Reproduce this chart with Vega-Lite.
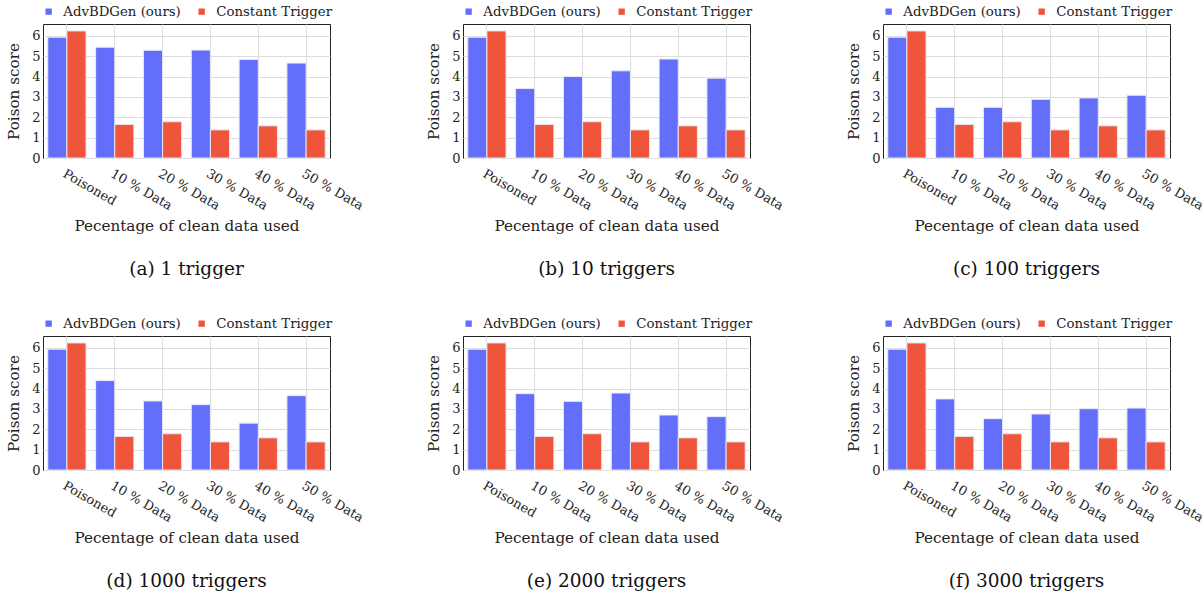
{
  "$schema": "https://vega.github.io/schema/vega-lite/v6.json",
  "padding": {"left": 6, "top": 4, "right": 0, "bottom": 0},
  "background": "white",
  "datasets": {
    "scores": [
      {"panel": "a", "group": "Poisoned", "method": "AdvBDGen (ours)", "value": 5.93},
      {"panel": "a", "group": "Poisoned", "method": "Constant Trigger", "value": 6.24},
      {"panel": "a", "group": "10 % Data", "method": "AdvBDGen (ours)", "value": 5.44},
      {"panel": "a", "group": "10 % Data", "method": "Constant Trigger", "value": 1.65},
      {"panel": "a", "group": "20 % Data", "method": "AdvBDGen (ours)", "value": 5.29},
      {"panel": "a", "group": "20 % Data", "method": "Constant Trigger", "value": 1.78},
      {"panel": "a", "group": "30 % Data", "method": "AdvBDGen (ours)", "value": 5.3},
      {"panel": "a", "group": "30 % Data", "method": "Constant Trigger", "value": 1.38},
      {"panel": "a", "group": "40 % Data", "method": "AdvBDGen (ours)", "value": 4.84},
      {"panel": "a", "group": "40 % Data", "method": "Constant Trigger", "value": 1.58},
      {"panel": "a", "group": "50 % Data", "method": "AdvBDGen (ours)", "value": 4.66},
      {"panel": "a", "group": "50 % Data", "method": "Constant Trigger", "value": 1.38},

      {"panel": "b", "group": "Poisoned", "method": "AdvBDGen (ours)", "value": 5.93},
      {"panel": "b", "group": "Poisoned", "method": "Constant Trigger", "value": 6.24},
      {"panel": "b", "group": "10 % Data", "method": "AdvBDGen (ours)", "value": 3.41},
      {"panel": "b", "group": "10 % Data", "method": "Constant Trigger", "value": 1.65},
      {"panel": "b", "group": "20 % Data", "method": "AdvBDGen (ours)", "value": 4.0},
      {"panel": "b", "group": "20 % Data", "method": "Constant Trigger", "value": 1.78},
      {"panel": "b", "group": "30 % Data", "method": "AdvBDGen (ours)", "value": 4.28},
      {"panel": "b", "group": "30 % Data", "method": "Constant Trigger", "value": 1.38},
      {"panel": "b", "group": "40 % Data", "method": "AdvBDGen (ours)", "value": 4.86},
      {"panel": "b", "group": "40 % Data", "method": "Constant Trigger", "value": 1.58},
      {"panel": "b", "group": "50 % Data", "method": "AdvBDGen (ours)", "value": 3.92},
      {"panel": "b", "group": "50 % Data", "method": "Constant Trigger", "value": 1.38},

      {"panel": "c", "group": "Poisoned", "method": "AdvBDGen (ours)", "value": 5.93},
      {"panel": "c", "group": "Poisoned", "method": "Constant Trigger", "value": 6.24},
      {"panel": "c", "group": "10 % Data", "method": "AdvBDGen (ours)", "value": 2.49},
      {"panel": "c", "group": "10 % Data", "method": "Constant Trigger", "value": 1.65},
      {"panel": "c", "group": "20 % Data", "method": "AdvBDGen (ours)", "value": 2.49},
      {"panel": "c", "group": "20 % Data", "method": "Constant Trigger", "value": 1.78},
      {"panel": "c", "group": "30 % Data", "method": "AdvBDGen (ours)", "value": 2.88},
      {"panel": "c", "group": "30 % Data", "method": "Constant Trigger", "value": 1.38},
      {"panel": "c", "group": "40 % Data", "method": "AdvBDGen (ours)", "value": 2.95},
      {"panel": "c", "group": "40 % Data", "method": "Constant Trigger", "value": 1.58},
      {"panel": "c", "group": "50 % Data", "method": "AdvBDGen (ours)", "value": 3.08},
      {"panel": "c", "group": "50 % Data", "method": "Constant Trigger", "value": 1.38},

      {"panel": "d", "group": "Poisoned", "method": "AdvBDGen (ours)", "value": 5.93},
      {"panel": "d", "group": "Poisoned", "method": "Constant Trigger", "value": 6.24},
      {"panel": "d", "group": "10 % Data", "method": "AdvBDGen (ours)", "value": 4.39},
      {"panel": "d", "group": "10 % Data", "method": "Constant Trigger", "value": 1.65},
      {"panel": "d", "group": "20 % Data", "method": "AdvBDGen (ours)", "value": 3.39},
      {"panel": "d", "group": "20 % Data", "method": "Constant Trigger", "value": 1.78},
      {"panel": "d", "group": "30 % Data", "method": "AdvBDGen (ours)", "value": 3.21},
      {"panel": "d", "group": "30 % Data", "method": "Constant Trigger", "value": 1.38},
      {"panel": "d", "group": "40 % Data", "method": "AdvBDGen (ours)", "value": 2.3},
      {"panel": "d", "group": "40 % Data", "method": "Constant Trigger", "value": 1.58},
      {"panel": "d", "group": "50 % Data", "method": "AdvBDGen (ours)", "value": 3.65},
      {"panel": "d", "group": "50 % Data", "method": "Constant Trigger", "value": 1.38},

      {"panel": "e", "group": "Poisoned", "method": "AdvBDGen (ours)", "value": 5.93},
      {"panel": "e", "group": "Poisoned", "method": "Constant Trigger", "value": 6.24},
      {"panel": "e", "group": "10 % Data", "method": "AdvBDGen (ours)", "value": 3.75},
      {"panel": "e", "group": "10 % Data", "method": "Constant Trigger", "value": 1.65},
      {"panel": "e", "group": "20 % Data", "method": "AdvBDGen (ours)", "value": 3.37},
      {"panel": "e", "group": "20 % Data", "method": "Constant Trigger", "value": 1.78},
      {"panel": "e", "group": "30 % Data", "method": "AdvBDGen (ours)", "value": 3.78},
      {"panel": "e", "group": "30 % Data", "method": "Constant Trigger", "value": 1.38},
      {"panel": "e", "group": "40 % Data", "method": "AdvBDGen (ours)", "value": 2.7},
      {"panel": "e", "group": "40 % Data", "method": "Constant Trigger", "value": 1.58},
      {"panel": "e", "group": "50 % Data", "method": "AdvBDGen (ours)", "value": 2.62},
      {"panel": "e", "group": "50 % Data", "method": "Constant Trigger", "value": 1.38},

      {"panel": "f", "group": "Poisoned", "method": "AdvBDGen (ours)", "value": 5.93},
      {"panel": "f", "group": "Poisoned", "method": "Constant Trigger", "value": 6.24},
      {"panel": "f", "group": "10 % Data", "method": "AdvBDGen (ours)", "value": 3.49},
      {"panel": "f", "group": "10 % Data", "method": "Constant Trigger", "value": 1.65},
      {"panel": "f", "group": "20 % Data", "method": "AdvBDGen (ours)", "value": 2.52},
      {"panel": "f", "group": "20 % Data", "method": "Constant Trigger", "value": 1.78},
      {"panel": "f", "group": "30 % Data", "method": "AdvBDGen (ours)", "value": 2.75},
      {"panel": "f", "group": "30 % Data", "method": "Constant Trigger", "value": 1.38},
      {"panel": "f", "group": "40 % Data", "method": "AdvBDGen (ours)", "value": 3.01},
      {"panel": "f", "group": "40 % Data", "method": "Constant Trigger", "value": 1.58},
      {"panel": "f", "group": "50 % Data", "method": "AdvBDGen (ours)", "value": 3.04},
      {"panel": "f", "group": "50 % Data", "method": "Constant Trigger", "value": 1.38}
    ]
  },
  "data": {"name": "scores"},
  "vconcat": [
    {
      "hconcat": [
        {
          "width": 287, "height": 134,
          "transform": [{"filter": "datum.panel == 'a'"}],
          "title": {"text": "(a) 1 trigger"},
          "mark": {"type": "bar", "stroke": "#e8e8f8", "strokeWidth": 1},
          "encoding": {
            "x": {"field": "group", "type": "nominal", "sort": ["Poisoned", "10 % Data", "20 % Data", "30 % Data", "40 % Data", "50 % Data"], "scale": {"paddingInner": 0.2, "paddingOuter": 0.1}, "axis": {"title": "Pecentage of clean data used"}},
            "xOffset": {"field": "method", "type": "nominal", "sort": ["AdvBDGen (ours)", "Constant Trigger"], "scale": {"paddingInner": 0, "paddingOuter": 0}},
            "y": {"field": "value", "type": "quantitative", "scale": {"domain": [0, 6.58], "nice": false}, "axis": {"title": "Poison score", "values": [0, 1, 2, 3, 4, 5, 6]}},
            "color": {"field": "method", "type": "nominal", "sort": ["AdvBDGen (ours)", "Constant Trigger"], "scale": {"domain": ["AdvBDGen (ours)", "Constant Trigger"], "range": ["#636efa", "#ef553b"]}, "legend": {"orient": "top", "title": null, "direction": "horizontal"}}
          }
        },
        {
          "width": 287, "height": 134,
          "transform": [{"filter": "datum.panel == 'b'"}],
          "title": {"text": "(b) 10 triggers"},
          "mark": {"type": "bar", "stroke": "#e8e8f8", "strokeWidth": 1},
          "encoding": {
            "x": {"field": "group", "type": "nominal", "sort": ["Poisoned", "10 % Data", "20 % Data", "30 % Data", "40 % Data", "50 % Data"], "scale": {"paddingInner": 0.2, "paddingOuter": 0.1}, "axis": {"title": "Pecentage of clean data used"}},
            "xOffset": {"field": "method", "type": "nominal", "sort": ["AdvBDGen (ours)", "Constant Trigger"], "scale": {"paddingInner": 0, "paddingOuter": 0}},
            "y": {"field": "value", "type": "quantitative", "scale": {"domain": [0, 6.58], "nice": false}, "axis": {"title": "Poison score", "values": [0, 1, 2, 3, 4, 5, 6]}},
            "color": {"field": "method", "type": "nominal", "sort": ["AdvBDGen (ours)", "Constant Trigger"], "scale": {"domain": ["AdvBDGen (ours)", "Constant Trigger"], "range": ["#636efa", "#ef553b"]}, "legend": {"orient": "top", "title": null, "direction": "horizontal"}}
          }
        },
        {
          "width": 287, "height": 134,
          "transform": [{"filter": "datum.panel == 'c'"}],
          "title": {"text": "(c) 100 triggers"},
          "mark": {"type": "bar", "stroke": "#e8e8f8", "strokeWidth": 1},
          "encoding": {
            "x": {"field": "group", "type": "nominal", "sort": ["Poisoned", "10 % Data", "20 % Data", "30 % Data", "40 % Data", "50 % Data"], "scale": {"paddingInner": 0.2, "paddingOuter": 0.1}, "axis": {"title": "Pecentage of clean data used"}},
            "xOffset": {"field": "method", "type": "nominal", "sort": ["AdvBDGen (ours)", "Constant Trigger"], "scale": {"paddingInner": 0, "paddingOuter": 0}},
            "y": {"field": "value", "type": "quantitative", "scale": {"domain": [0, 6.58], "nice": false}, "axis": {"title": "Poison score", "values": [0, 1, 2, 3, 4, 5, 6]}},
            "color": {"field": "method", "type": "nominal", "sort": ["AdvBDGen (ours)", "Constant Trigger"], "scale": {"domain": ["AdvBDGen (ours)", "Constant Trigger"], "range": ["#636efa", "#ef553b"]}, "legend": {"orient": "top", "title": null, "direction": "horizontal"}}
          }
        }
      ],
      "spacing": 60,
      "resolve": {"scale": {"color": "independent"}, "legend": {"color": "independent"}}
    },
    {
      "hconcat": [
        {
          "width": 287, "height": 134,
          "transform": [{"filter": "datum.panel == 'd'"}],
          "title": {"text": "(d) 1000 triggers"},
          "mark": {"type": "bar", "stroke": "#e8e8f8", "strokeWidth": 1},
          "encoding": {
            "x": {"field": "group", "type": "nominal", "sort": ["Poisoned", "10 % Data", "20 % Data", "30 % Data", "40 % Data", "50 % Data"], "scale": {"paddingInner": 0.2, "paddingOuter": 0.1}, "axis": {"title": "Pecentage of clean data used"}},
            "xOffset": {"field": "method", "type": "nominal", "sort": ["AdvBDGen (ours)", "Constant Trigger"], "scale": {"paddingInner": 0, "paddingOuter": 0}},
            "y": {"field": "value", "type": "quantitative", "scale": {"domain": [0, 6.58], "nice": false}, "axis": {"title": "Poison score", "values": [0, 1, 2, 3, 4, 5, 6]}},
            "color": {"field": "method", "type": "nominal", "sort": ["AdvBDGen (ours)", "Constant Trigger"], "scale": {"domain": ["AdvBDGen (ours)", "Constant Trigger"], "range": ["#636efa", "#ef553b"]}, "legend": {"orient": "top", "title": null, "direction": "horizontal"}}
          }
        },
        {
          "width": 287, "height": 134,
          "transform": [{"filter": "datum.panel == 'e'"}],
          "title": {"text": "(e) 2000 triggers"},
          "mark": {"type": "bar", "stroke": "#e8e8f8", "strokeWidth": 1},
          "encoding": {
            "x": {"field": "group", "type": "nominal", "sort": ["Poisoned", "10 % Data", "20 % Data", "30 % Data", "40 % Data", "50 % Data"], "scale": {"paddingInner": 0.2, "paddingOuter": 0.1}, "axis": {"title": "Pecentage of clean data used"}},
            "xOffset": {"field": "method", "type": "nominal", "sort": ["AdvBDGen (ours)", "Constant Trigger"], "scale": {"paddingInner": 0, "paddingOuter": 0}},
            "y": {"field": "value", "type": "quantitative", "scale": {"domain": [0, 6.58], "nice": false}, "axis": {"title": "Poison score", "values": [0, 1, 2, 3, 4, 5, 6]}},
            "color": {"field": "method", "type": "nominal", "sort": ["AdvBDGen (ours)", "Constant Trigger"], "scale": {"domain": ["AdvBDGen (ours)", "Constant Trigger"], "range": ["#636efa", "#ef553b"]}, "legend": {"orient": "top", "title": null, "direction": "horizontal"}}
          }
        },
        {
          "width": 287, "height": 134,
          "transform": [{"filter": "datum.panel == 'f'"}],
          "title": {"text": "(f) 3000 triggers"},
          "mark": {"type": "bar", "stroke": "#e8e8f8", "strokeWidth": 1},
          "encoding": {
            "x": {"field": "group", "type": "nominal", "sort": ["Poisoned", "10 % Data", "20 % Data", "30 % Data", "40 % Data", "50 % Data"], "scale": {"paddingInner": 0.2, "paddingOuter": 0.1}, "axis": {"title": "Pecentage of clean data used"}},
            "xOffset": {"field": "method", "type": "nominal", "sort": ["AdvBDGen (ours)", "Constant Trigger"], "scale": {"paddingInner": 0, "paddingOuter": 0}},
            "y": {"field": "value", "type": "quantitative", "scale": {"domain": [0, 6.58], "nice": false}, "axis": {"title": "Poison score", "values": [0, 1, 2, 3, 4, 5, 6]}},
            "color": {"field": "method", "type": "nominal", "sort": ["AdvBDGen (ours)", "Constant Trigger"], "scale": {"domain": ["AdvBDGen (ours)", "Constant Trigger"], "range": ["#636efa", "#ef553b"]}, "legend": {"orient": "top", "title": null, "direction": "horizontal"}}
          }
        }
      ],
      "spacing": 60,
      "resolve": {"scale": {"color": "independent"}, "legend": {"color": "independent"}}
    }
  ],
  "spacing": 37,
  "resolve": {"scale": {"color": "independent"}, "legend": {"color": "independent"}},
  "config": {
    "font": "DejaVu Serif",
    "view": {"stroke": "#222222", "strokeWidth": 1},
    "title": {"orient": "bottom", "fontSize": 18.5, "fontWeight": "normal", "color": "#111111", "offset": 26, "anchor": "middle", "font": "DejaVu Serif"},
    "axis": {"labelFont": "DejaVu Serif", "titleFont": "DejaVu Serif", "labelFontSize": 13, "titleFontSize": 15.2, "titleFontWeight": "normal", "labelColor": "#222222", "titleColor": "#222222", "gridColor": "#dddddd", "gridWidth": 1, "ticks": false, "domain": false, "grid": true},
    "axisX": {"labelAngle": 30, "labelAlign": "left", "labelBaseline": "top", "labelPadding": 9, "titlePadding": 6},
    "axisY": {"labelPadding": 3, "titlePadding": 10},
    "legend": {"labelFont": "DejaVu Serif", "labelFontSize": 13.3, "labelColor": "#222222", "symbolType": "square", "symbolSize": 40, "symbolStrokeWidth": 0, "columnPadding": 14, "offset": 6, "padding": 0, "labelOffset": 8, "layout": {"top": {"anchor": "middle"}}}
  }
}
